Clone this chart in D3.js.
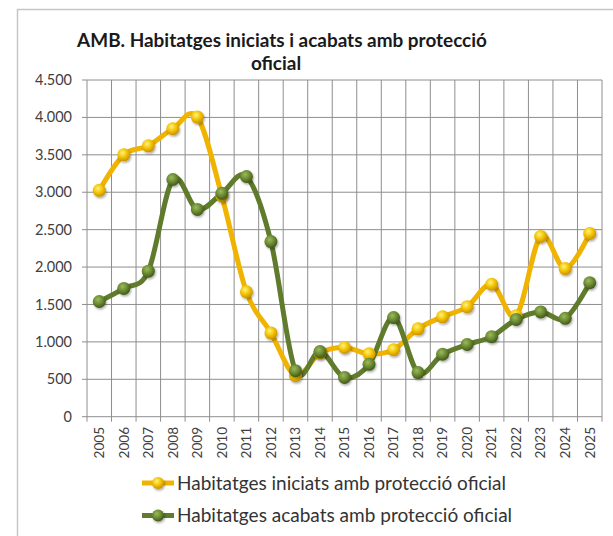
<!DOCTYPE html>
<html><head><meta charset="utf-8">
<script src="https://cdn.jsdelivr.net/npm/d3@7"></script>
<style>body{margin:0;background:#fff}svg{display:block}</style>
</head><body>
<svg id="c" width="613" height="536"></svg>
<script>
const years = ["2005","2006","2007","2008","2009","2010","2011","2012","2013","2014","2015","2016","2017","2018","2019","2020","2021","2022","2023","2024","2025"];
const iniciats = [3025,3500,3620,3850,4005,2950,1670,1120,550,850,925,840,895,1175,1335,1470,1770,1350,2410,1980,2450];
const acabats  = [1540,1715,1945,3170,2770,2985,3210,2340,615,870,525,700,1325,590,835,965,1070,1300,1400,1315,1790];
const yTicks = [0,500,1000,1500,2000,2500,3000,3500,4000,4500];
const titleLines = ["AMB. Habitatges iniciats i acabats amb protecció","oficial"];
const seriesNames = ["Habitatges iniciats amb protecció oficial","Habitatges acabats amb protecció oficial"];

const svg = d3.select("#c");
const font = "Lato, 'Open Sans', sans-serif";
const L = 87, R = 602, T = 80, B = 416.7;

function fitSize(sel, target){
  const n = sel.node(); const fs = parseFloat(sel.attr("font-size"));
  const w = n.getComputedTextLength();
  if (w > 0) sel.attr("font-size", fs*target/w);
}

const defs = svg.append("defs");
function grad(id, c0, c1, c2){
  const g = defs.append("radialGradient").attr("id", id).attr("cx","40%").attr("cy","35%").attr("r","65%");
  g.append("stop").attr("offset","0%").attr("stop-color",c0);
  g.append("stop").attr("offset","55%").attr("stop-color",c1);
  g.append("stop").attr("offset","100%").attr("stop-color",c2);
}
grad("gy","#fff27a","#f2c200","#c99200");
grad("gg","#9cba5c","#6a8a32","#43591a");
const filt = defs.append("filter").attr("id","sh").attr("x","-50%").attr("y","-50%").attr("width","200%").attr("height","200%");
filt.append("feDropShadow").attr("dx",1).attr("dy",1.5).attr("stdDeviation",1.2).attr("flood-color","#000").attr("flood-opacity",0.35);

svg.append("rect").attr("x",17.5).attr("y",9.5).attr("width",640).attr("height",600)
  .attr("fill","none").attr("stroke","#c6c6c6").attr("stroke-width",1.5);

const x = d3.scaleBand().domain(years).range([L,R]).paddingInner(0).paddingOuter(0);
const y = d3.scaleLinear().domain([0,4500]).range([B,T]);

const g = svg.append("g");
g.selectAll(".hg").data(yTicks).join("line")
  .attr("x1",L).attr("x2",R).attr("y1",d=>y(d)).attr("y2",d=>y(d))
  .attr("stroke","#8e8e8e").attr("stroke-width",1);
const bounds = years.map(d=>x(d)).concat([R]);
g.selectAll(".vg").data(bounds).join("line")
  .attr("x1",d=>d).attr("x2",d=>d).attr("y1",T).attr("y2",B+5)
  .attr("stroke","#8e8e8e").attr("stroke-width",1);
g.selectAll(".yt").data(yTicks).join("line")
  .attr("x1",L-5).attr("x2",L).attr("y1",d=>y(d)).attr("y2",d=>y(d))
  .attr("stroke","#8e8e8e");
const fmt = d3.formatLocale({decimal:",",thousands:".",grouping:[3],currency:["","€"]}).format(",");
const yl = g.selectAll(".yl").data(yTicks).join("text")
  .attr("x",72).attr("y",d=>y(d)).attr("dy","0.35em").attr("text-anchor","end")
  .attr("font-family",font).attr("font-size",13.5).attr("fill","#404040").text(d=>fmt(d));
// size from widest label
{
  const w = yl.filter(d=>d===4500).node().getComputedTextLength();
  yl.attr("font-size", 13.5*37/w);
}
const xl = g.selectAll(".xl").data(years).join("text")
  .attr("transform",d=>`translate(${x(d)+x.bandwidth()/2},427) rotate(-90)`)
  .attr("dy","0.35em").attr("text-anchor","end")
  .attr("font-family",font).attr("font-size",13.5).attr("fill","#404040").text(d=>d);
{
  const w = xl.filter((d,i)=>i===0).node().getComputedTextLength();
  xl.attr("font-size", 13.5*31.5/w);
}

const line = d3.line().x((d,i)=>x(years[i])+x.bandwidth()/2).y(d=>y(d)).curve(d3.curveCatmullRom.alpha(0));
const series = [
  {vals: acabats, col:"#5f7b2b", g:"url(#gg)"},
  {vals: iniciats, col:"#efb300", g:"url(#gy)"}
];
const order = [series[1], series[0]];
order.forEach(s=>{
  svg.append("path").attr("d",line(s.vals)).attr("fill","none").attr("stroke",s.col)
    .attr("stroke-width",5).attr("stroke-linejoin","round").attr("stroke-linecap","round");
});
order.forEach(s=>{
  svg.append("g").selectAll("circle").data(s.vals).join("circle")
    .attr("cx",(d,i)=>x(years[i])+x.bandwidth()/2).attr("cy",d=>y(d)).attr("r",6.5)
    .attr("fill",s.g).attr("filter","url(#sh)");
});

const titleTargets = [410, 57];
titleLines.forEach((t,i)=>{
  const s = svg.append("text").attr("x",282).attr("y",47+i*23).attr("text-anchor","middle")
    .attr("font-family",font).attr("font-weight","bold").attr("font-size",19.5).attr("fill","#1a1a1a").text(t);
  if (i===0) fitSize(s, titleTargets[0]);
});
// second line same size as first
{
  const ts = svg.selectAll("text").filter(function(){return titleLines.includes(this.textContent);});
  const fs = d3.select(ts.nodes()[0]).attr("font-size");
  d3.select(ts.nodes()[1]).attr("font-size", fs).attr("x",276);
}

const leg = [{name:seriesNames[0], s:series[1], yy:483, w:329},{name:seriesNames[1], s:series[0], yy:515.5, w:335}];
leg.forEach(l=>{
  svg.append("line").attr("x1",142).attr("x2",174).attr("y1",l.yy).attr("y2",l.yy)
    .attr("stroke",l.s.col).attr("stroke-width",5);
  svg.append("circle").attr("cx",158).attr("cy",l.yy).attr("r",6).attr("fill",l.s.g).attr("filter","url(#sh)");
  const t = svg.append("text").attr("x",177).attr("y",l.yy).attr("dy","0.35em")
    .attr("font-family",font).attr("font-size",16.3).attr("fill","#333").text(l.name);
  fitSize(t, l.w);
});
</script>
</body></html>
